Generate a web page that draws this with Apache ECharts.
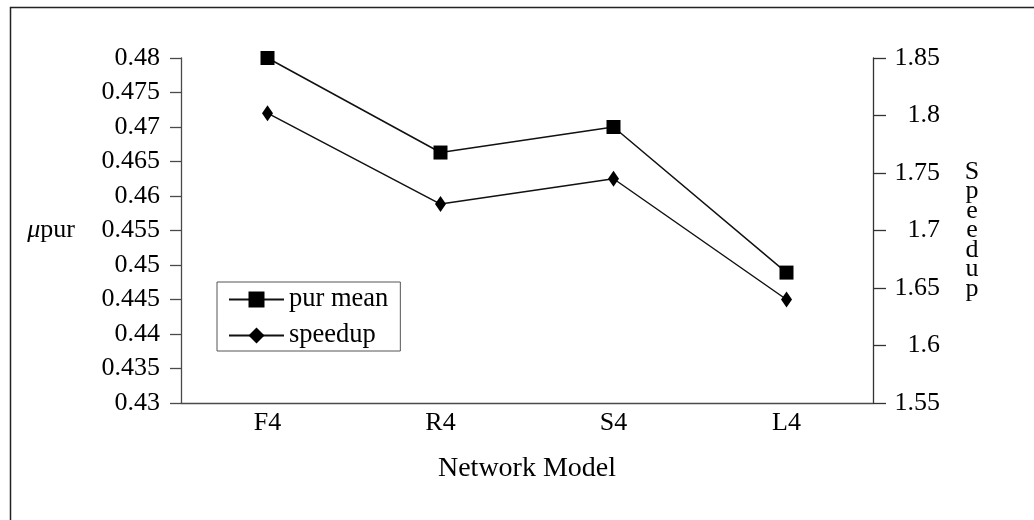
<!DOCTYPE html>
<html>
<head>
<meta charset="utf-8">
<script src="https://cdn.jsdelivr.net/npm/echarts@6/dist/echarts.min.js"></script>
<style>html,body{margin:0;padding:0;background:#fff}#c{width:1034px;height:520px}</style>
</head>
<body>
<div id="c"></div>
<script>
const categories = ['F4', 'R4', 'S4', 'L4'];
const purMean = [0.4800, 0.4663, 0.4700, 0.4489];
const speedup = [1.802, 1.723, 1.745, 1.640];
const leftTicks = [0.43, 0.48, 0.005];
const rightTicks = [1.55, 1.85, 0.05];
const seriesNames = ['pur mean', 'speedup'];

const FONT = '"Liberation Serif", "Times New Roman", serif';
const axisGray = '#4a4a4a';

const chart = echarts.init(document.getElementById('c'), null, {renderer: 'canvas'});
chart.setOption({
  animation: false,
  backgroundColor: '#fff',
  textStyle: {fontFamily: FONT, color: '#000'},
  graphic: [{
    type: 'rect', left: 8, top: 5, silent: true,
    shape: {width: 1100, height: 600},
    style: {fill: 'none', stroke: '#222', lineWidth: 1.5}
  }],
  grid: {left: 181, right: 161, top: 58, bottom: 117},
  legend: {
    orient: 'vertical', left: 217, top: 282,
    padding: [4, 12, 2, 11], itemGap: 9,
    itemWidth: 55, itemHeight: 20,
    borderColor: '#555', borderWidth: 1,
    textStyle: {fontFamily: FONT, fontSize: 26.5, color: '#000'},
    data: seriesNames
  },
  xAxis: {
    type: 'category', data: categories, boundaryGap: true,
    axisLine: {lineStyle: {color: axisGray, width: 1.3}},
    axisTick: {show: false},
    axisLabel: {fontFamily: FONT, fontSize: 26, color: '#000', margin: 7},
    name: 'Network Model', nameLocation: 'middle', nameGap: 52,
    nameTextStyle: {fontFamily: FONT, fontSize: 28, color: '#000'}
  },
  yAxis: [{
    type: 'value', position: 'left',
    min: leftTicks[0], max: leftTicks[1], interval: leftTicks[2],
    splitLine: {show: false},
    axisLine: {show: true, lineStyle: {color: axisGray, width: 1.3}},
    axisTick: {show: true, length: 11, lineStyle: {color: axisGray, width: 1.3}},
    axisLabel: {fontFamily: FONT, fontSize: 26, color: '#000', margin: 21,
      formatter: v => String(parseFloat(v.toFixed(3)))},
    name: '{i|μ}pur', nameLocation: 'middle', nameRotate: 0, nameGap: 106,
    nameTextStyle: {fontFamily: FONT, fontSize: 26, color: '#000',
      rich: {i: {fontFamily: FONT, fontStyle: 'italic', fontSize: 26, color: '#000'}}}
  }, {
    type: 'value', position: 'right',
    min: rightTicks[0], max: rightTicks[1], interval: rightTicks[2],
    splitLine: {show: false},
    axisLine: {show: true, lineStyle: {color: '#333', width: 1.3}},
    axisTick: {show: true, length: 13, lineStyle: {color: '#333', width: 1.3}},
    axisLabel: {fontFamily: FONT, fontSize: 26, color: '#000', margin: 67, align: 'right',
      formatter: v => String(parseFloat(v.toFixed(2)))},
    name: 'Speedup'.split('').join('\n'), nameLocation: 'middle', nameRotate: 0, nameGap: 99,
    nameTextStyle: {fontFamily: FONT, fontSize: 26, color: '#000', align: 'center', lineHeight: 19.5}
  }],
  series: [{
    name: seriesNames[0], type: 'line', yAxisIndex: 0, data: purMean,
    symbol: 'rect', symbolSize: 14, showAllSymbol: true,
    lineStyle: {color: '#111', width: 1.5},
    itemStyle: {color: '#000'}
  }, {
    name: seriesNames[1], type: 'line', yAxisIndex: 1, data: speedup,
    symbol: 'diamond', symbolSize: [11, 16], showAllSymbol: true,
    lineStyle: {color: '#111', width: 1.5},
    itemStyle: {color: '#000'}
  }]
});
</script>
</body>
</html>
